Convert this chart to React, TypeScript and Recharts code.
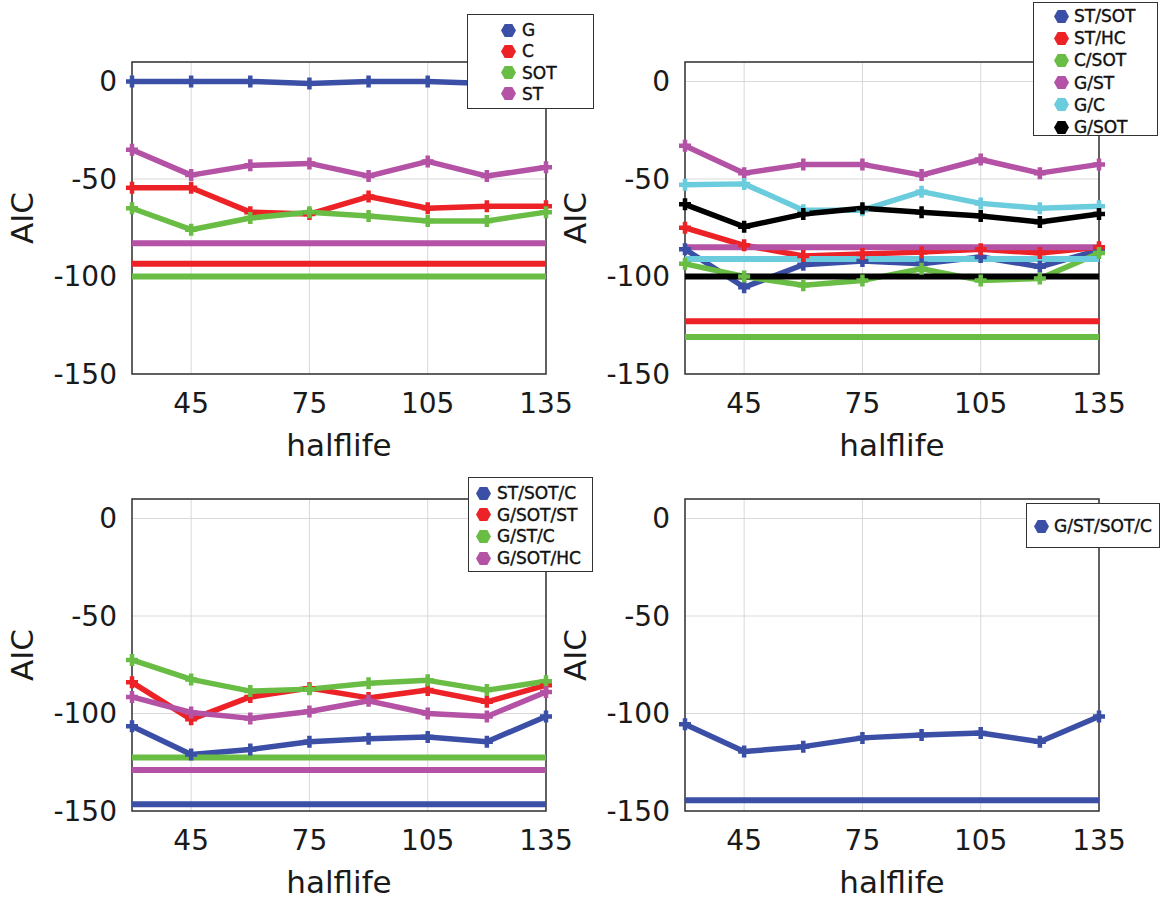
import { LineChart, Line, XAxis, YAxis, CartesianGrid, ReferenceLine, ReferenceArea, Legend, Label } from 'recharts';

const halflife = [30, 45, 60, 75, 90, 105, 120, 135];
const xTicks = [45, 75, 105, 135];
const yTicks = [-150, -100, -50, 0];

const BLUE = '#3b4fa6';
const RED = '#ec2227';
const GREEN = '#69bd45';
const MAGENTA = '#b452a5';
const CYAN = '#6accdd';
const BLACK = '#000000';

// top left
const gAic = [0, 0, 0, -1, 0, 0, -1, -1];
const cAic = [-54.5, -54.5, -67, -68, -59, -65, -64, -64];
const sotAic = [-65, -76, -70, -67, -69, -71.5, -71.5, -67];
const stAic = [-35, -48, -43, -42, -48.5, -41, -48.5, -44];
const singleBase = [-83, -93.5, -100];

// top right
const stSotAic = [-86, -105.5, -94, -92, -93.5, -90, -95, -86.5];
const stHcAic = [-75, -84, -89.5, -88.5, -87.5, -86, -88, -85];
const cSotAic = [-93.5, -100, -104.5, -102, -96, -102, -101, -88];
const gStAic = [-33, -47, -42.5, -42.5, -48, -40, -47, -42.5];
const gCAic = [-53, -52.5, -66, -66, -56.5, -62.5, -65, -64];
const gSotAic = [-63, -74.5, -68, -65, -67, -69, -72, -68];
const pairBase = [-85, -91, -100, -123, -131];

// bottom left
const stSotCAic = [-106.5, -121, -118.5, -114.5, -113, -112, -114.5, -101.5];
const gSotStAic = [-84, -103, -91.5, -87, -92, -88, -94, -85.5];
const gStCAic = [-72.5, -82.5, -88.5, -87.5, -84.5, -83, -88, -83.5];
const gSotHcAic = [-91.5, -99.5, -102.5, -99, -93.5, -100, -101.5, -89];
const tripleBase = [-122.5, -129, -146.5];

// bottom right
const allAic = [-105.5, -119.5, -117, -112.5, -111, -110, -114.5, -101.5];
const allBase = [-144.5];

type Series = { name: string; color: string; values: number[] };
type Base = { value: number; color: string };
type Box = { left: number; top: number; width: number; height: number; markX: number; textX: number; firstY: number; step: number };

const FONT = '"DejaVu Sans", sans-serif';
const PLOT_W = 414;
const PLOT_H = 312;
const AXIS_W = 132;

const plusDot = (color: string) => (props: any) => {
  const { cx, cy, index } = props;
  if (cx == null || cy == null) return <g key={index} />;
  return (
    <path
      key={index}
      d={`M${cx - 6},${cy}H${cx + 6}M${cx},${cy - 6}V${cy + 6}`}
      stroke={color}
      strokeWidth={4.5}
      fill="none"
    />
  );
};

const Hex = ({ color }: { color: string }) => (
  <svg width={15} height={13} style={{ display: 'block' }}>
    <polygon points="0,6.5 3.7,0 11.3,0 15,6.5 11.3,13 3.7,13" fill={color} />
  </svg>
);

const LegendBox = ({ series, box }: { series: Series[]; box: Box }) => (
  <div
    style={{
      position: 'relative',
      width: box.width,
      height: box.height,
      boxSizing: 'border-box',
      border: '1.5px solid #333',
      background: '#fff',
      fontFamily: FONT,
      fontSize: 17,
      color: '#111',
      WebkitTextStroke: '0.4px #111',
    }}
  >
    {series.map((s, i) => (
      <div key={s.name} style={{ position: 'absolute', top: box.firstY + i * box.step - 11, left: 0, height: 22, width: '100%' }}>
        <div style={{ position: 'absolute', left: box.markX - 7.5, top: 4.5 }}>
          <Hex color={s.color} />
        </div>
        <span style={{ position: 'absolute', left: box.textX, top: 0, lineHeight: '22px', whiteSpace: 'nowrap' }}>{s.name}</span>
      </div>
    ))}
  </div>
);

const Panel = ({ left, top, series, bases, box }: { left: number; top: number; series: Series[]; bases: Base[]; box: Box }) => {
  const rows = halflife.map((x, i) => {
    const r: Record<string, number> = { x };
    series.forEach((s, k) => {
      r['s' + k] = s.values[i];
    });
    return r;
  });
  return (
    <div style={{ position: 'absolute', left, top }}>
      <LineChart width={AXIS_W + PLOT_W + 35} height={62 + PLOT_H + 90} data={rows} margin={{ top: 62, right: 35, bottom: 0, left: 0 }}>
        <CartesianGrid stroke="#d9d9d9" strokeWidth={1} />
        <XAxis
          dataKey="x"
          type="number"
          domain={[30, 135]}
          ticks={xTicks}
          interval={0}
          height={90}
          tickSize={0}
          tickLine={false}
          axisLine={false}
          tickMargin={19}
          tick={{ fontSize: 28, fill: '#1a1a1a', fontFamily: FONT }}
        >
          <Label value="halflife" position="insideBottom" offset={8} style={{ fontSize: 31, fill: '#1a1a1a', fontFamily: FONT }} />
        </XAxis>
        <YAxis
          type="number"
          domain={[-150, 10]}
          ticks={yTicks}
          interval={0}
          width={AXIS_W}
          tickSize={0}
          tickLine={false}
          axisLine={false}
          tickMargin={15}
          tick={{ fontSize: 28, fill: '#1a1a1a', fontFamily: FONT }}
        >
          <Label value="AIC" angle={-90} position="insideLeft" offset={22} style={{ textAnchor: 'middle', fontSize: 31, fill: '#1a1a1a', fontFamily: FONT }} />
        </YAxis>
        <ReferenceArea x1={30} x2={135} y1={-150} y2={10} fill="none" fillOpacity={0} stroke="#333" strokeWidth={1.5} ifOverflow="visible" />
        {series.map((s, k) => (
          <Line
            key={s.name}
            dataKey={'s' + k}
            name={s.name}
            stroke={s.color}
            strokeWidth={5.5}
            strokeLinejoin="round"
            dot={plusDot(s.color)}
            activeDot={false}
            isAnimationActive={false}
          />
        ))}
        {bases.map((b, k) => (
          <ReferenceLine key={k} y={b.value} stroke={b.color} strokeWidth={6} ifOverflow="visible" />
        ))}
        <Legend
          layout="vertical"
          align="center"
          verticalAlign="middle"
          wrapperStyle={{ position: 'absolute', left: box.left, top: box.top, width: box.width, height: box.height, margin: 0 }}
          content={() => <LegendBox series={series} box={box} />}
        />
      </LineChart>
    </div>
  );
};

const singles: Series[] = [
  { name: 'G', color: BLUE, values: gAic },
  { name: 'C', color: RED, values: cAic },
  { name: 'SOT', color: GREEN, values: sotAic },
  { name: 'ST', color: MAGENTA, values: stAic },
];
const singleLines: Base[] = [
  { value: singleBase[0], color: MAGENTA },
  { value: singleBase[1], color: RED },
  { value: singleBase[2], color: GREEN },
];

const pairs: Series[] = [
  { name: 'ST/SOT', color: BLUE, values: stSotAic },
  { name: 'ST/HC', color: RED, values: stHcAic },
  { name: 'C/SOT', color: GREEN, values: cSotAic },
  { name: 'G/ST', color: MAGENTA, values: gStAic },
  { name: 'G/C', color: CYAN, values: gCAic },
  { name: 'G/SOT', color: BLACK, values: gSotAic },
];
const pairLines: Base[] = [
  { value: pairBase[0], color: MAGENTA },
  { value: pairBase[1], color: CYAN },
  { value: pairBase[2], color: BLACK },
  { value: pairBase[3], color: RED },
  { value: pairBase[4], color: GREEN },
];

const triples: Series[] = [
  { name: 'ST/SOT/C', color: BLUE, values: stSotCAic },
  { name: 'G/SOT/ST', color: RED, values: gSotStAic },
  { name: 'G/ST/C', color: GREEN, values: gStCAic },
  { name: 'G/SOT/HC', color: MAGENTA, values: gSotHcAic },
];
const tripleLines: Base[] = [
  { value: tripleBase[0], color: GREEN },
  { value: tripleBase[1], color: MAGENTA },
  { value: tripleBase[2], color: BLUE },
];

const quads: Series[] = [{ name: 'G/ST/SOT/C', color: BLUE, values: allAic }];
const quadLines: Base[] = [{ value: allBase[0], color: BLUE }];

export default function App() {
  return (
    <div style={{ position: 'absolute', left: 0, top: 0, width: 1163, height: 903, background: '#fff', overflow: 'hidden' }}>
      <Panel left={0} top={0} series={singles} bases={singleLines}
        box={{ left: 467, top: 14, width: 127, height: 95, markX: 40, textX: 54, firstY: 15, step: 21.3 }} />
      <Panel left={553} top={0} series={pairs} bases={pairLines}
        box={{ left: 480, top: 2, width: 125, height: 134, markX: 27, textX: 40, firstY: 13, step: 22.2 }} />
      <Panel left={0} top={437} series={triples} bases={tripleLines}
        box={{ left: 468, top: 40, width: 125, height: 95, markX: 14, textX: 28, firstY: 15, step: 21.7 }} />
      <Panel left={553} top={437} series={quads} bases={quadLines}
        box={{ left: 473, top: 66, width: 134, height: 45, markX: 14, textX: 27, firstY: 22, step: 22 }} />
    </div>
  );
}
